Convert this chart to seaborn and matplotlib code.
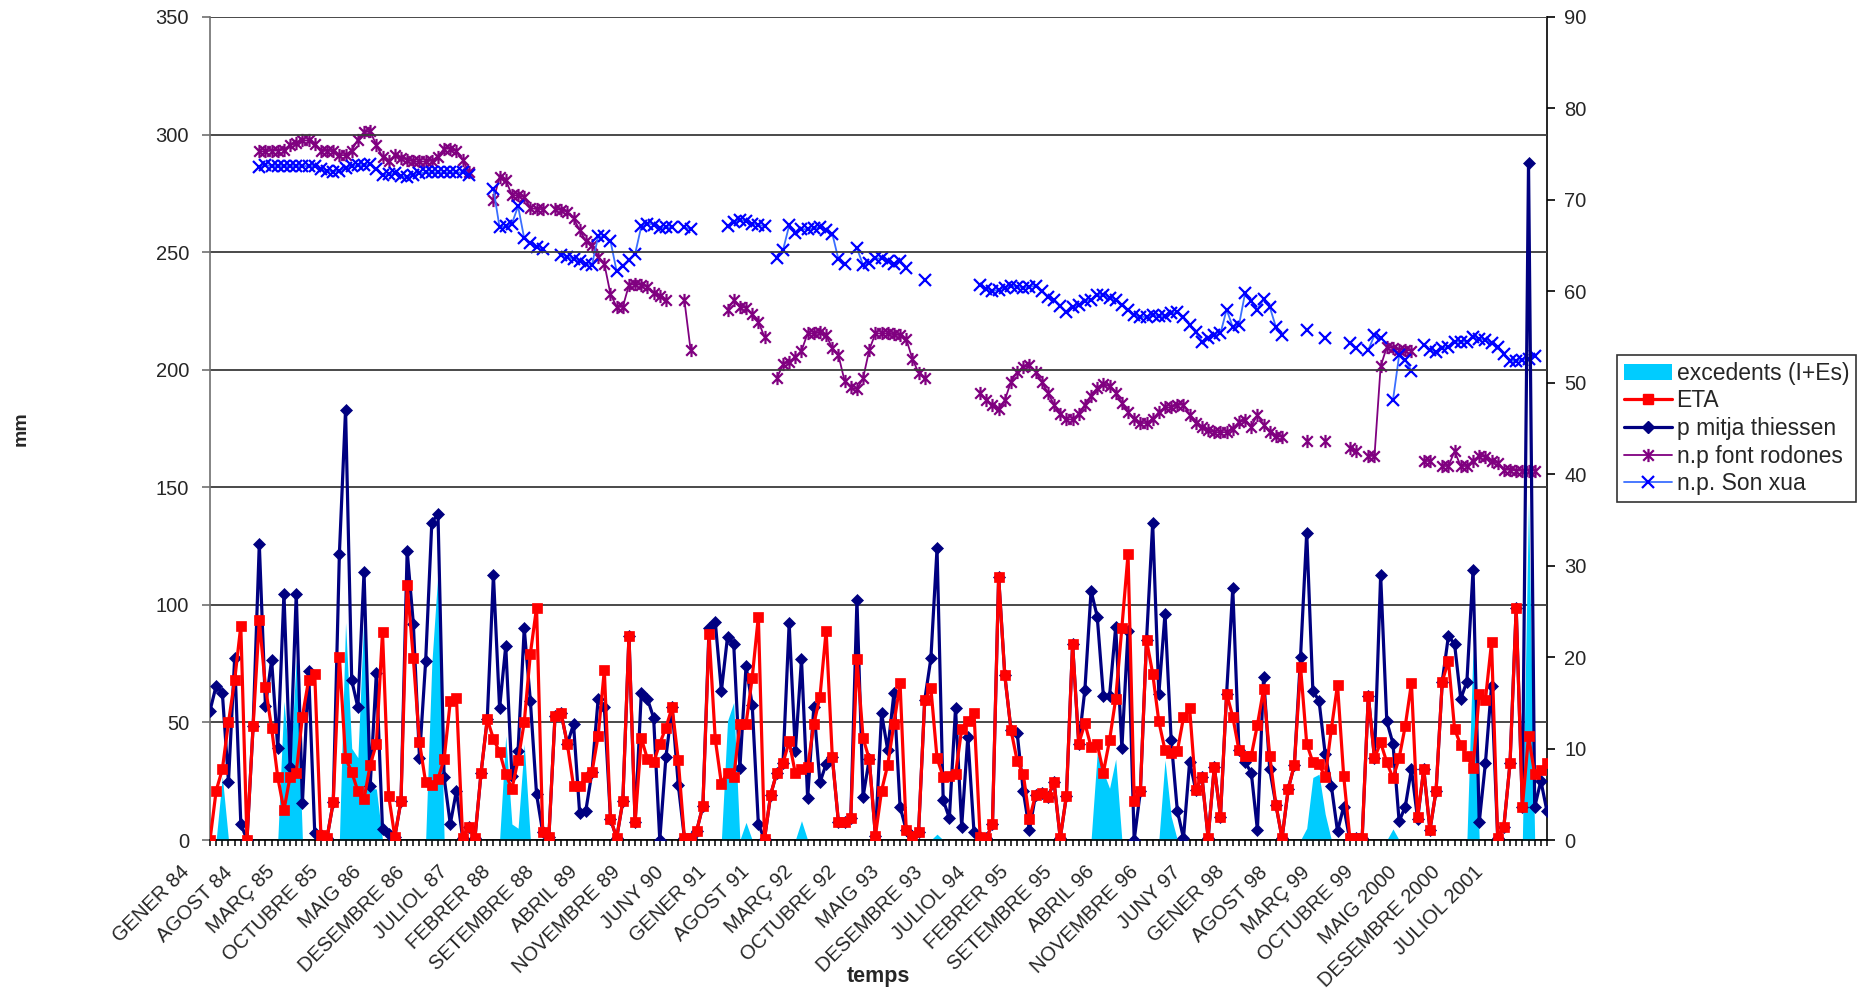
import numpy as np
import pandas as pd
import matplotlib
matplotlib.use("Agg")
import matplotlib.pyplot as plt
import matplotlib.transforms as mtransforms
from matplotlib.path import Path
from matplotlib.lines import Line2D
from matplotlib.patches import Patch
import seaborn as sns

N = None
# ---------------- data (monthly, GENER 84 ... FEBRER 2002) ----------------
tick_labels = ["GENER 84", "AGOST 84", "MARÇ 85", "OCTUBRE 85", "MAIG 86", "DESEMBRE 86",
               "JULIOL 87", "FEBRER 88", "SETEMBRE 88", "ABRIL 89", "NOVEMBRE 89", "JUNY 90",
               "GENER 91", "AGOST 91", "MARÇ 92", "OCTUBRE 92", "MAIG 93", "DESEMBRE 93",
               "JULIOL 94", "FEBRER 95", "SETEMBRE 95", "ABRIL 96", "NOVEMBRE 96", "JUNY 97",
               "GENER 98", "AGOST 98", "MARÇ 99", "OCTUBRE 99", "MAIG 2000", "DESEMBRE 2000",
               "JULIOL 2001"]

excedents = [0, 0, 27, 0, 0, 0, 0, 0, 0, 0,
             0, 0, 59, 30, 77, 0, 0, 0, 0, 0,
             0, 0, 92.5, 39, 35, 97, 22, 21.7, 0, 0,
             0, 0, 0, 0, 0, 0, 75, 114, 0, 0,
             0, 0, 0, 0, 0, 0, 0, 0, 44.3, 6.8,
             5, 40.8, 0, 0, 0, 0, 0, 0, 0, 0,
             0, 0, 0, 0, 0, 0, 0, 0, 0, 0,
             0, 0, 0, 0, 0, 0, 0, 0, 0, 0,
             0, 0, 0, 0, 50.7, 58.5, 0, 7.5, 0, 0,
             0, 0, 0, 0, 0, 0, 8.2, 0, 0, 0,
             0, 0, 0, 0, 0, 0, 0, 0, 0, 0,
             0, 0, 0, 0, 0, 0, 0, 0, 2.5, 0,
             0, 0, 0, 0, 0, 0, 0, 0, 0, 0,
             0, 0, 0, 0, 0, 0, 0, 0, 0, 0,
             0, 0, 0, 0, 37, 29, 22, 34.4, 0, 0,
             0, 0, 0, 0, 0, 34, 10, 0, 0, 0,
             0, 0, 0, 0, 0, 0, 0, 0, 0, 0,
             0, 0, 0, 0, 0, 0, 0, 0, 5, 26.6,
             28, 11, 0, 0, 0, 0, 0, 0, 0, 0,
             0, 0, 4.7, 0, 0, 0, 0, 0, 0, 0,
             0, 0, 0, 0, 0, 82, 0, 0, 0, 0,
             0, 0, 0, 0, 144, 0, 0, 0]

eta = [0, 21, 30, 50, 68, 91, 0, 48.6, 93.6, 65,
       47.6, 26.6, 12.7, 27, 28.7, 52.5, 68, 70.5, 2, 1,
       16, 78, 34.7, 29, 20.7, 17.4, 32, 40.8, 88.5, 18.8,
       1.4, 16.7, 108.5, 77.3, 41.5, 24.5, 23.5, 26, 34.4, 59,
       60.6, 1, 5.4, 0.8, 28.7, 51.4, 43, 37.5, 28, 21.7,
       34, 50, 79.3, 98.8, 3.3, 1.4, 52.8, 53.8, 40.8, 23,
       23, 26.6, 29, 44.3, 72.2, 9, 0.8, 16.4, 86.8, 7.5,
       43.3, 34.4, 33, 41, 47.8, 56.4, 34, 0.8, 0.8, 4,
       14.6, 87.8, 43, 24, 28.7, 26.6, 49.3, 49.3, 69, 95,
       0.4, 19.3, 28.7, 32.7, 42, 28.3, 30, 30.9, 49.3, 61,
       89, 35.4, 7.5, 7.5, 9.3, 77, 43.3, 34.4, 1.8, 21,
       32, 49.3, 66.7, 4.2, 1.8, 3.3, 59.5, 64.6, 34.8, 26.9,
       27.3, 28, 47.2, 50.7, 54.2, 1.1, 0.8, 6.8, 111.9, 70,
       46.9, 33.7, 28, 8.9, 19.3, 20.2, 18.4, 24.5, 0.8, 18.8,
       83.3, 41, 49.6, 39.6, 40.8, 28.7, 42.5, 60, 90.3, 121.5,
       16.7, 20.7, 85, 70.8, 50.4, 38.2, 37.2, 37.7, 52.1, 56,
       21.2, 26.9, 0.8, 31.2, 9.9, 62.3, 52.4, 38.2, 35.8, 35.8,
       49, 64.1, 35.8, 15, 0.8, 21.7, 32, 73.6, 41, 33,
       32.3, 26.6, 47.2, 66, 27.3, 0.8, 0.8, 0.8, 61.3, 34.8,
       41.5, 33, 26.3, 34.8, 48.6, 66.7, 9.6, 30.2, 4.2, 21,
       67.4, 76.2, 47.2, 40.4, 35.8, 30.6, 62, 59.5, 84, 0.8,
       5.7, 32.7, 98.6, 13.9, 44.3, 28, 29.7, 32.6]

p_thiessen = [55, 65.6, 62.7, 24.8, 77.3, 7, 0, 48.6, 126, 57,
              76.5, 39, 104.8, 31, 104.8, 15.6, 72, 3, 2, 1,
              16, 121.8, 183, 68, 56.4, 114, 23, 71, 4.7, 2.5,
              1.4, 16.7, 123, 92, 35, 76, 135, 138.8, 26.6, 6.8,
              21, 1, 5.4, 0.8, 28.7, 51.4, 112.7, 56, 82.5, 27.3,
              38, 90, 59, 19.5, 3.3, 1.4, 52.8, 53.8, 40.8, 49.3,
              11.3, 12.5, 29, 60, 56.4, 9, 0.8, 16.4, 86.8, 7.5,
              62.7, 60, 52, 0, 35.4, 56.4, 23.5, 0.8, 0.8, 4,
              14.6, 90.3, 92.9, 63.4, 86.5, 83.3, 30.6, 74, 57.5, 6.8,
              0.4, 19.3, 28.7, 32.7, 92.2, 37.7, 76.9, 17.8, 56.4, 24.5,
              32.3, 35.4, 7.5, 7.5, 9.3, 102, 18.4, 34.4, 1.8, 53.8,
              38.2, 62.4, 14.2, 4.2, 1.8, 3.3, 59.5, 77.2, 124, 17,
              9.3, 56, 5.7, 43.9, 3.3, 1.1, 0.8, 6.8, 111.9, 70,
              46.9, 45.7, 20.7, 4.2, 19.3, 20.2, 18.4, 24.5, 0.8, 18.8,
              83.3, 41, 64, 106, 95, 61.3, 61.3, 90.6, 39, 89,
              0, 20.7, 85, 134.7, 62, 96.3, 42.5, 12.5, 0.8, 33.3,
              21.2, 26.9, 0.8, 31.2, 9.9, 62.3, 107, 38.2, 33, 28.7,
              4.2, 69.4, 30, 15, 0.8, 21.7, 32, 78, 130.7, 63.4,
              59.2, 36.5, 23, 3.7, 14.2, 0, 0.8, 0.8, 61.3, 34.8,
              112.7, 50.4, 41, 7.9, 14.2, 30.2, 8.9, 30.2, 4.2, 21,
              67.4, 86.8, 83.3, 60, 67.4, 115, 7.5, 32.6, 65.6, 0.8,
              5.7, 32.7, 98.6, 13.9, 288, 13.9, 25.2, 12.2]

np_font_rodones = [N, N, N, N, N, N, N, N, 75.3, 75.3,
                   75.4, 75.4, 75.5, 76.0, 76.2, 76.5, 76.5, 76.1, 75.3, 75.4,
                   75.3, 74.9, 74.9, 75.4, 76.6, 77.4, 77.5, 76.0, 74.7, 74.2,
                   74.9, 74.6, 74.4, 74.2, 74.2, 74.2, 74.3, 74.7, 75.6, 75.6,
                   75.3, 74.4, 73.1, N, N, N, 70.0, 72.5, 72.2, 70.5,
                   70.5, 70.3, 69.1, 69.0, 69.0, N, 69.0, 68.9, 68.7, 68.0,
                   66.7, 65.5, 65.1, 63.8, 63.0, 59.7, 58.3, 58.3, 60.7, 60.8,
                   60.7, 60.5, 59.8, 59.5, 59.0, N, N, 59.0, 53.6, N,
                   N, N, N, N, 58.0, 59.0, 58.3, 58.2, 57.5, 56.7,
                   55.0, N, 50.5, 52.0, 52.3, 52.8, 53.5, 55.4, 55.4, 55.5,
                   55.2, 53.8, 53.0, 50.2, 49.5, 49.3, 50.5, 53.6, 55.4, 55.4,
                   55.4, 55.3, 55.2, 54.8, 52.6, 51.1, 50.5, N, N, N,
                   N, N, N, N, N, 48.9, 48.1, 47.6, 47.1, 48.1,
                   50.1, 51.2, 51.7, 51.9, 51.2, 50.1, 48.9, 47.6, 46.6, 46.0,
                   46.0, 46.6, 47.6, 48.6, 49.4, 49.9, 49.6, 48.9, 47.8, 46.8,
                   46.0, 45.6, 45.6, 46.0, 46.8, 47.3, 47.3, 47.6, 47.6, 46.5,
                   45.6, 45.2, 44.8, 44.6, 44.6, 44.6, 45.0, 45.7, 45.9, 45.2,
                   46.5, 45.4, 44.6, 44.2, 44.1, N, N, N, 43.6, N,
                   N, 43.6, N, N, N, 42.9, 42.5, N, 42.0, 42.0,
                   51.8, 53.9, 53.8, 53.6, 53.6, 53.5, N, 41.5, 41.5, N,
                   40.9, 40.9, 42.5, 40.9, 40.9, 41.5, 42.0, 41.9, 41.5, 41.2,
                   40.5, 40.5, 40.4, 40.4, 40.4, 40.4, N, N]

np_son_xua = [N, N, N, N, N, N, N, N, 73.6, 73.8,
              73.7, 73.7, 73.7, 73.7, 73.7, 73.7, 73.7, 73.7, 73.35, 73.2,
              73.1, 73.2, 73.5, 73.7, 73.8, 73.8, 73.9, 73.35, 72.7, 72.8,
              72.9, 72.6, 72.5, 72.7, 72.9, 73.0, 73.0, 73.0, 73.0, 73.0,
              73.0, 73.0, 72.7, N, N, N, 71.2, 67.0, 67.1, 67.4,
              69.3, 65.8, 65.3, 64.9, 64.6, N, N, 64.0, 63.8, 63.5,
              63.3, 63.0, 62.9, 66.0, 66.0, 65.5, 62.2, 62.8, 63.4, 64.1,
              67.1, 67.4, 67.3, 66.9, 67.0, 67.0, N, 67.0, 66.8, N,
              N, N, N, N, 67.1, 67.6, 67.8, 67.7, 67.4, 67.3,
              67.1, N, 63.6, 64.5, 67.2, 66.4, 66.8, 66.8, 66.9, 67.0,
              66.7, 66.3, 63.5, 63.0, N, 64.7, 62.9, 63.1, 63.6, 63.6,
              63.3, 63.0, 63.3, 62.5, N, N, 61.2, N, N, N,
              N, N, N, N, N, 60.7, 60.3, 60.0, 60.2, 60.4,
              60.6, 60.5, 60.4, 60.5, 60.6, 60.0, 59.4, 59.1, 58.4, 57.7,
              58.3, 58.5, 58.9, 59.1, 59.6, 59.6, 59.3, 59.1, 58.5, 58.0,
              57.4, 57.2, 57.2, 57.4, 57.3, 57.3, 57.6, 57.7, 57.2, 56.3,
              55.5, 54.5, 54.9, 55.2, 55.4, 58.0, 56.1, 56.3, 59.8, 58.9,
              58.0, 59.2, 58.3, 56.1, 55.2, N, N, N, 55.8, N,
              N, 54.9, N, N, N, 54.3, 53.8, N, 53.6, 55.2,
              54.9, N, 48.1, 53.0, 52.5, 51.3, N, 54.1, 53.6, 53.4,
              53.8, 53.9, 54.5, 54.5, 54.5, 55.0, 54.8, 54.7, 54.3, 53.9,
              53.1, 52.4, 52.4, 52.5, 52.6, 52.9, N, N]

# ---------------- figure ----------------
sns.set_theme(style="white")
plt.rcParams["font.family"] = ["Liberation Sans", "DejaVu Sans"]

n = len(eta)
months = np.arange(n)
tick_pos = np.arange(0, 7 * len(tick_labels), 7)

fig = plt.figure(figsize=(18.68, 9.91), dpi=100, facecolor="white")
ax = fig.add_axes([210 / 1868, 1 - 840 / 991, (1547 - 210) / 1868, (840 - 17) / 991])
ax2 = ax.twinx()
ax.set_zorder(ax2.get_zorder() + 1)
ax.patch.set_visible(False)

C_EXC, C_ETA, C_P, C_FR, C_SX = "#00CCFF", "#FF0000", "#000080", "#800080", "#0000FF"

# area
ax.fill_between(months, np.array(excedents, float), 0, color=C_EXC, lw=0, zorder=1)

# precipitation and ETA
df_main = pd.DataFrame({"mes": months, "p": p_thiessen, "eta": eta})
sns.lineplot(data=df_main, x="mes", y="p", ax=ax, color=C_P, lw=2.3,
             marker="D", markersize=6.0, markeredgecolor=C_P, markeredgewidth=0.5,
             legend=False, zorder=3)
sns.lineplot(data=df_main, x="mes", y="eta", ax=ax, color=C_ETA, lw=2.3,
             marker="s", markersize=7.4, markeredgecolor=C_ETA, markeredgewidth=0.5,
             legend=False, zorder=4)

# asterisk marker (X + vertical bar, like Excel's star)
star = Path([(-1, -1), (1, 1), (-1, 1), (1, -1), (0, -1.25), (0, 1.25)],
            [Path.MOVETO, Path.LINETO, Path.MOVETO, Path.LINETO, Path.MOVETO, Path.LINETO])


def segments(vals):
    v = np.array([np.nan if a is None else a for a in vals], float)
    seg = np.cumsum(np.isnan(v))
    m = ~np.isnan(v)
    return pd.DataFrame({"mes": months[m], "nivell": v[m], "seg": seg[m]})


sns.lineplot(data=segments(np_font_rodones), x="mes", y="nivell", units="seg",
             estimator=None, ax=ax2, color=C_FR, lw=1.3, marker=star, markersize=9.5,
             markeredgecolor=C_FR, markerfacecolor="none", markeredgewidth=1.6,
             legend=False, sort=True)
sns.lineplot(data=segments(np_son_xua), x="mes", y="nivell", units="seg",
             estimator=None, ax=ax2, color="#3A6EFF", lw=1.3, marker="x", markersize=8.5,
             markeredgecolor=C_SX, markeredgewidth=1.6, legend=False, sort=True)

# axes
ax.set_xlim(0, n - 1)
ax.set_ylim(0, 350)
ax2.set_ylim(0, 90)
ax.set_yticks(np.arange(0, 351, 50))
ax2.set_yticks(np.arange(0, 91, 10))
ax.set_xticks(months, minor=True)
ax.set_xticks(tick_pos)
ax.set_xticklabels(tick_labels)

for a in (ax, ax2):
    a.spines["top"].set_visible(False)
ax.spines["left"].set_color("#707070")
ax.spines["bottom"].set_color("#000000")
ax2.spines["right"].set_color("#000000")
for s in ("left", "bottom"):
    ax.spines[s].set_linewidth(1.2)
ax2.spines["right"].set_linewidth(1.2)
ax2.spines["left"].set_visible(False)
ax2.spines["bottom"].set_visible(False)
ax.spines["right"].set_visible(False)

ax.grid(False)
ax2.grid(False)
ax.yaxis.grid(True, color="#3a3a3a", lw=1.3)
ax.set_axisbelow(True)

ax.tick_params(axis="y", which="major", direction="out", length=5.5, width=1.2,
               color="#707070", labelsize=14.5, pad=9.5, left=True)
ax2.tick_params(axis="y", which="major", direction="out", length=5.5, width=1.2,
                color="#000000", labelsize=14.5, pad=7, right=True)
ax.tick_params(axis="x", which="both", direction="out", length=4, width=1.1,
               color="#000000", bottom=True)
ax.tick_params(axis="x", which="major", labelsize=14.5, pad=17)

ax.set_ylabel("mm", fontsize=14, fontweight="bold")
ax.yaxis.set_label_coords(-0.1346, 0.5)
ax.set_xlabel("temps", fontsize=15.5, fontweight="bold")
ax.xaxis.set_label_coords(0.5, -0.153)
ax2.set_ylabel("")

# legend
handles = [Patch(facecolor=C_EXC, edgecolor="none"),
           Line2D([], [], color=C_ETA, lw=2.3, marker="s", markersize=7.4),
           Line2D([], [], color=C_P, lw=2.3, marker="D", markersize=6.0),
           Line2D([], [], color=C_FR, lw=1.3, marker=star, markersize=9.5,
                  markerfacecolor="none", markeredgewidth=1.6),
           Line2D([], [], color="#3A6EFF", lw=1.3, marker="x", markersize=8.5,
                  markeredgecolor=C_SX, markeredgewidth=1.6)]
labels = ["excedents (I+Es)", "ETA", "p mitja thiessen", "n.p font rodones", "n.p. Son xua"]
leg = fig.legend(handles, labels, loc="upper left", bbox_to_anchor=(1617 / 1868, 1 - 355 / 991),
                 frameon=True, fancybox=False, edgecolor="black", fontsize=16.5,
                 handlelength=2.1, handletextpad=0.2, borderpad=0.3, labelspacing=0.2,
                 borderaxespad=0)
leg.get_frame().set_linewidth(1.2)

# no gridline on the top edge (350)
for t in ax.yaxis.get_major_ticks():
    if abs(t.get_loc() - 350) < 1e-6:
        t.gridline.set_visible(False)

# rotated tick labels, anchored like the original
offset = mtransforms.ScaledTranslation(-24 / 100, 0, fig.dpi_scale_trans)
for lab in ax.get_xticklabels():
    lab.set_rotation(45)
    lab.set_ha("right")
    lab.set_va("center")
    lab.set_rotation_mode("anchor")
    lab.set_transform(lab.get_transform() + offset)

fig.savefig("out.png", dpi=100, facecolor="white")
